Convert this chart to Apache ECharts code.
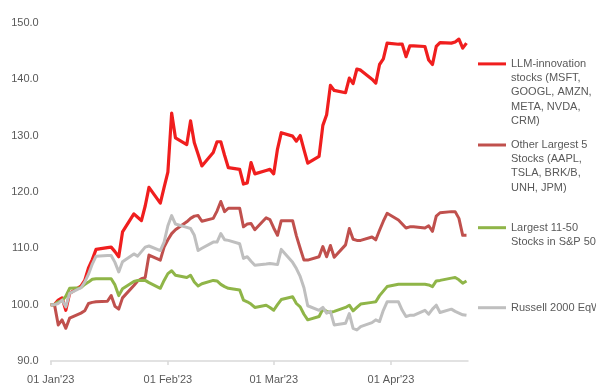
<!DOCTYPE html>
<html>
<head>
<meta charset="utf-8">
<script src="https://cdn.jsdelivr.net/npm/echarts@6/dist/echarts.min.js"></script>
<style>
html,body{margin:0;padding:0;background:#fff;}
#chart{width:596px;height:385px;}
</style>
</head>
<body>
<div id="chart"></div>
<script>
// Dates (trading weekdays, base point on 1 Jan)
const dates = [
 '2023-01-01','2023-01-02','2023-01-03','2023-01-04','2023-01-05','2023-01-06','2023-01-09','2023-01-10','2023-01-11','2023-01-12','2023-01-13','2023-01-16','2023-01-17','2023-01-18','2023-01-19','2023-01-20','2023-01-23','2023-01-24','2023-01-25','2023-01-26','2023-01-27','2023-01-30','2023-01-31',
 '2023-02-01','2023-02-02','2023-02-03','2023-02-06','2023-02-07','2023-02-08','2023-02-09','2023-02-10','2023-02-13','2023-02-14','2023-02-15','2023-02-16','2023-02-17','2023-02-20','2023-02-21','2023-02-22','2023-02-23','2023-02-24','2023-02-27','2023-02-28',
 '2023-03-01','2023-03-02','2023-03-03','2023-03-06','2023-03-07','2023-03-08','2023-03-09','2023-03-10','2023-03-13','2023-03-14','2023-03-15','2023-03-16','2023-03-17','2023-03-20','2023-03-21','2023-03-22','2023-03-23','2023-03-24','2023-03-27','2023-03-28','2023-03-29','2023-03-30','2023-03-31',
 '2023-04-03','2023-04-04','2023-04-05','2023-04-06','2023-04-07','2023-04-10','2023-04-11','2023-04-12','2023-04-13','2023-04-14','2023-04-17','2023-04-18','2023-04-19','2023-04-20','2023-04-21'
];

const seriesNames = [
 'LLM-innovation\nstocks (MSFT,\nGOOGL, AMZN,\nMETA, NVDA,\nCRM)',
 'Other Largest 5\nStocks (AAPL,\nTSLA, BRK/B,\nUNH, JPM)',
 'Largest 11-50\nStocks in S&P 500',
 'Russell 2000 EqW'
];

const llmInnovation = [
 100,100,100.8,101.2,99.0,102.0,103.3,104.3,106.5,108.0,109.8,110.1,110.2,109.4,108.5,112.9,116.1,115.5,114.9,117.5,120.8,118.0,120.8,
 123.5,134.0,129.6,128.4,132.6,128.7,126.7,124.6,127.0,128.9,128.9,126.5,124.3,124.0,121.4,121.6,125.2,123.2,123.8,124.0,
 123.2,127.6,130.5,129.9,129.0,130.0,127.5,125.1,126.3,131.8,133.7,138.9,138.0,137.6,140.2,139.2,141.8,141.6,140.0,139.3,142.6,143.6,146.4,
 146.2,146.2,144.0,145.9,145.9,145.8,143.4,142.6,145.8,146.5,146.4,146.6,147.1,145.5,146.4
];
const otherLargest5 = [
 100,100,96.4,97.3,95.8,97.6,98.5,98.9,100.2,100.4,100.5,100.6,101.6,99.7,99.2,101.2,103.4,104.2,104.6,104.8,108.8,107.9,110.2,
 111.5,112.6,113.3,114.7,115.3,115.7,115.8,114.8,115.3,116.6,118.3,116.5,117.1,117.1,113.8,114.3,114.4,113.3,115.4,115.1,
 113.6,112.3,114.9,114.9,112.2,110.0,107.9,107.9,108.5,110.3,108.5,110.5,108.4,110.6,113.5,111.6,111.4,111.4,112.0,111.5,113.2,114.8,116.2,
 115.0,114.3,113.6,113.8,113.8,113.6,114.0,113.0,115.7,116.3,116.5,116.5,115.3,112.3,112.3
];
const largest11to50 = [
 100,100,100.5,100.7,101.5,102.9,103.0,103.6,104.0,104.5,104.6,104.6,104.6,103.5,101.6,102.8,104.1,104.3,104.3,104.3,103.9,102.9,104.3,
 105.5,106.0,105.2,104.8,105.2,104.0,103.3,103.7,104.3,104.2,103.6,103.2,102.9,102.6,100.8,100.5,100.1,99.5,99.9,99.5,
 99.0,100.0,100.9,101.4,100.2,99.6,98.3,97.3,97.9,99.2,98.8,98.6,98.8,99.5,99.9,98.9,99.5,100.1,100.4,100.5,101.6,102.4,103.2,
 103.6,103.6,103.6,103.6,103.6,103.6,103.5,103.2,104.2,104.3,104.7,104.8,104.4,103.8,104.2
];
const russell2000EqW = [
 100,100,100.2,100.8,99.6,102.0,103.0,104.0,105.4,107.2,108.6,108.7,108.7,107.5,105.8,107.6,109.0,108.6,109.4,110.2,110.4,109.6,111.1,
 114.0,115.8,114.3,113.7,113.5,112.3,109.6,110.0,111.1,111.1,112.6,111.5,111.4,110.8,108.2,108.5,107.7,107.0,107.2,107.3,
 107.2,107.1,109.8,107.5,106.4,105.0,103.0,99.8,99.0,99.5,98.5,98.8,96.4,96.7,98.4,95.8,95.5,96.1,96.8,97.3,97.0,99.0,100.5,
 100.5,99.0,97.9,98.1,98.1,99.0,98.3,99.2,99.9,98.6,99.2,98.8,98.5,98.2,98.1
];

const xTickDates = ['2023-01-01','2023-02-01','2023-03-01','2023-04-01'];
const yTicks = [90, 100, 110, 120, 130, 140, 150];
const monthNames = ['Jan','Feb','Mar','Apr','May','Jun','Jul','Aug','Sep','Oct','Nov','Dec'];

const DAY = 86400000;
const origin = Date.UTC(2023, 0, 1);
function dayNum(s){ const p = s.split('-').map(Number); return Math.round((Date.UTC(p[0], p[1]-1, p[2]) - origin) / DAY); }
const tickVals = xTickDates.map(dayNum);

const colors = ['#F01E1E', '#C0504D', '#8FB548', '#BFBFBF'];
const widths = [3.2, 3, 3, 3];
const valueSets = [llmInnovation, otherLargest5, largest11to50, russell2000EqW];

const series = valueSets.map((vals, i) => ({
  name: seriesNames[i],
  type: 'line',
  showSymbol: false,
  symbol: 'none',
  animation: false,
  color: colors[i],
  lineStyle: { color: colors[i], width: widths[i], join: 'round' },
  data: dates.map((d, k) => [dayNum(d), vals[k]])
}));

const LH = 14.2;
const legendTops = [0, 95.3, 206.4, 300.6];
const legends = seriesNames.map((n, i) => ({
  data: [n],
  orient: 'vertical',
  left: 478,
  top: legendTops[i],
  padding: 0,
  icon: 'rect',
  itemWidth: 28,
  itemHeight: 3,
  selectedMode: false,
  formatter: function (name) {
    const lines = name.split('\n').length;
    return '\n'.repeat(lines - 1) + name;
  },
  textStyle: {
    fontFamily: 'Liberation Sans, Arial, sans-serif',
    fontSize: 11,
    color: '#595959',
    lineHeight: LH
  }
}));

const chart = echarts.init(document.getElementById('chart'), null, { renderer: 'canvas' });
chart.setOption({
  animation: false,
  backgroundColor: '#ffffff',
  grid: { left: 50.7, right: 128, top: 22.8, bottom: 22 },
  legend: legends,
  xAxis: {
    type: 'value',
    min: 0,
    max: 110.4,
    axisLine: { show: true, lineStyle: { color: '#D9D9D9', width: 1.5 } },
    axisTick: { show: true, customValues: tickVals, length: 4, lineStyle: { color: '#D9D9D9', width: 1.5 } },
    splitLine: { show: false },
    axisLabel: {
      customValues: tickVals,
      margin: 13,
      fontFamily: 'Liberation Sans, Arial, sans-serif',
      fontSize: 11,
      color: '#595959',
      hideOverlap: false,
      showMinLabel: true,
      showMaxLabel: true,
      formatter: function (v) {
        const d = new Date(origin + v * DAY);
        const dd = String(d.getUTCDate()).padStart(2, '0');
        const yy = String(d.getUTCFullYear()).slice(2);
        return dd + ' ' + monthNames[d.getUTCMonth()] + "'" + yy;
      }
    }
  },
  yAxis: {
    type: 'value',
    min: yTicks[0],
    max: yTicks[yTicks.length - 1],
    interval: 10,
    axisLine: { show: false },
    axisTick: { show: false },
    splitLine: { show: false },
    axisLabel: {
      margin: 12,
      fontFamily: 'Liberation Sans, Arial, sans-serif',
      fontSize: 11,
      color: '#595959',
      formatter: v => v.toFixed(1)
    }
  },
  series: series
});
</script>
</body>
</html>
